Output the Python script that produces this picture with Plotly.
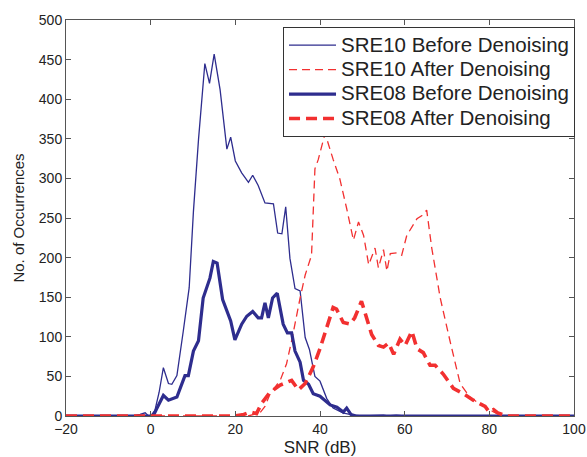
import plotly.graph_objects as go

# ---- data ----
sre10_before_x = [-20, -4, -2.5, -1.3, -0.5, 0, 1.0, 2.0, 3.0, 4.2, 5.0, 6.2, 7.7, 9.1, 10.1, 11.3, 12.8, 13.9, 15.0, 16.4,
                  18.0, 18.9, 20.0, 21.5, 23.1, 24.1, 25.4, 27.0, 29.0, 30.0, 31.0, 31.9, 32.9, 34.1, 35.3, 36.5, 37.5,
                  38.8, 40.0, 41.6, 43.1, 45.4, 47, 48, 50, 55, 56, 58, 60, 100]
sre10_before_y = [0, 0, 2, 4, 0, 0, 7, 30, 61, 41, 40, 51, 107, 162, 258, 349, 445, 420, 457, 412,
                  337, 352, 322, 307, 295, 304, 291, 269, 268, 231, 230, 264, 199, 161, 158, 99, 84,
                  50, 44, 22, 10, 4, 2, 1, 0, 1, 0, 1, 0, 0]

sre10_after_x = [-20, 23, 25.8, 27, 28.2, 30.6, 32.1, 33.3, 35.3, 36.5, 38.0, 38.8, 39.6, 41.2, 43.1, 44.7, 46.3, 47.9,
                 49.1, 50.3, 51.5, 53.0, 53.8, 55.0, 55.8, 56.6, 58.1, 59.3, 60.5, 61.7, 62.9, 64.1, 65.2, 66.4, 68.4,
                 70.7, 73.1, 75.4, 77.0, 79, 81, 83, 100]
sre10_after_y = [0, 0, 4, 12, 28, 45, 66, 95, 149, 178, 203, 312, 324, 357, 324, 299, 262, 222,
                 245, 228, 191, 212, 187, 210, 183, 205, 206, 203, 228, 239, 249, 253, 260, 212, 149,
                 95, 41, 24, 18, 12, 5, 0, 0]

sre08_before_x = [-20, 0, 0.6, 1.5, 3.0, 4.2, 6.2, 8.1, 8.9, 10.1, 11.3, 12.4, 14.0, 14.8, 15.7, 17.0, 18.3, 18.9, 19.9,
                  21.5, 22.7, 24.1, 25.4, 26.2, 27.0, 27.8, 28.8, 29.9, 31.3, 32.3, 33.3, 34.1, 35.3, 36.1, 37.3,
                  38.4, 40.0, 42.4, 44.0, 45.5, 46.3, 47.3, 48.5, 100]
sre08_before_y = [0, 0, 0, 10, 26, 20, 24, 51, 51, 82, 95, 149, 174, 195, 193, 147, 128, 120, 96,
                  116, 126, 132, 124, 124, 143, 124, 149, 155, 116, 105, 105, 82, 68, 45, 40,
                  28, 25, 14, 11, 5, 10, 2, 0, 0]

sre08_after_x = [-20, 20, 22, 23.5, 25, 26.2, 28.2, 30.6, 33.3, 34.9, 36.5, 38.4, 40.0, 41.6, 43.1, 43.9, 45.5, 47.1,
                 48.2, 49.8, 51.0, 52.2, 53.8, 55.0, 56.2, 57.4, 58.9, 60.1, 61.7, 62.9, 64.4, 66.0, 67.2, 69.1,
                 71.5, 73.9, 76.2, 77.4, 79, 80, 81, 82, 84, 100]
sre08_after_y = [0, 0, 2, 5, 3, 16, 30, 39, 45, 33, 41, 62, 85, 112, 137, 135, 118, 116,
                 124, 145, 124, 103, 89, 87, 92, 78, 97, 89, 107, 85, 80, 64, 64, 53,
                 35, 28, 20, 16, 12, 5, 8, 4, 0, 0]

series_names = ["SRE10 Before Denoising", "SRE10 After Denoising",
                "SRE08 Before Denoising", "SRE08 After Denoising"]

x_ticks = [-20, 0, 20, 40, 60, 80, 100]
y_ticks = [0, 50, 100, 150, 200, 250, 300, 350, 400, 450, 500]

BLUE = "#2E2D8E"
RED = "#F23030"


def big(name):
    return '<span style="font-size:20.5px">' + name + '</span>'


fig = go.Figure()
fig.add_trace(go.Scatter(x=sre10_before_x, y=sre10_before_y, mode="lines", name=big(series_names[0]),
                         line=dict(color=BLUE, width=1.3)))
fig.add_trace(go.Scatter(x=sre10_after_x, y=sre10_after_y, mode="lines", name=big(series_names[1]),
                         line=dict(color=RED, width=1.3, dash="8px,5px")))
fig.add_trace(go.Scatter(x=sre08_before_x, y=sre08_before_y, mode="lines", name=big(series_names[2]),
                         line=dict(color=BLUE, width=3.2)))
fig.add_trace(go.Scatter(x=sre08_after_x, y=sre08_after_y, mode="lines", name=big(series_names[3]),
                         line=dict(color=RED, width=3.6, dash="11px,6px")))

axis_common = dict(showline=True, linecolor="#555555", linewidth=1, mirror="ticks", ticks="inside",
                   ticklen=5, tickcolor="#555555", showgrid=False, zeroline=False,
                   ticklabeloverflow="allow", tickfont=dict(size=14, color="#222222"))

fig.update_xaxes(range=[-20, 100], tickvals=x_ticks, automargin=False,
                 ticktext=[("\u2212" + str(-v)) if v < 0 else str(v) for v in x_ticks],
                 title=dict(text="SNR (dB)", font=dict(size=17, color="#222222")), **axis_common)
fig.update_yaxes(range=[0, 500], tickvals=y_ticks, automargin=True,
                 title=dict(text="No. of Occurrences", font=dict(size=15, color="#222222"), standoff=10),
                 **axis_common)

fig.update_layout(
    width=587, height=457,
    margin=dict(l=66, r=13, t=16, b=41),
    paper_bgcolor="white", plot_bgcolor="white",
    font=dict(family="Liberation Sans, Arial, sans-serif", color="#222222"),
    legend=dict(x=1.002, y=0.9825, xanchor="right", yanchor="top",
                bgcolor="white", bordercolor="#333333", borderwidth=1,
                font=dict(size=16.5, color="#222222"), itemwidth=47,
                tracegroupgap=0),
    showlegend=True,
)

# remove the default page margin so the figure sits at the window's top-left corner
fig.write_html("out.html", config={"displayModeBar": False},
               post_script="document.body.style.margin='0';document.body.style.overflow='hidden';")
